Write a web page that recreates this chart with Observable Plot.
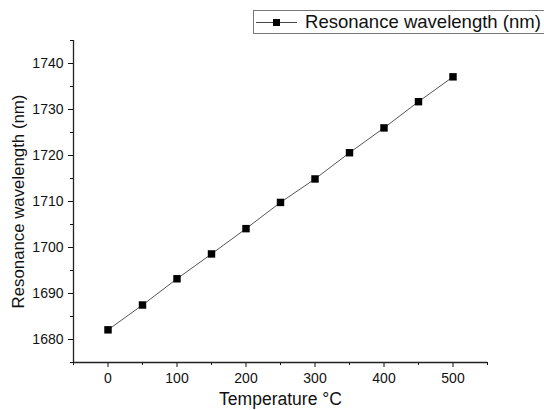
<!DOCTYPE html>
<html><head><meta charset="utf-8">
<script src="https://cdn.jsdelivr.net/npm/d3@7"></script>
<script src="https://cdn.jsdelivr.net/npm/@observablehq/plot@0.6"></script>
<style>
body{margin:0;background:#fff;font-family:Arial,"Liberation Sans",sans-serif}
#wrap{position:relative;width:544px;height:410px;overflow:hidden}
#legend{position:absolute;left:253px;top:10px;width:320px;height:22px;border:1px solid #777;background:#fff;color:#111;font-size:18px;line-height:22px;white-space:nowrap}
#legend svg{position:absolute;left:1px;top:0}
#legend span{position:absolute;left:51px;top:0}
</style></head><body><div id="wrap"></div>
<script>
const temperature = [0, 50, 100, 150, 200, 250, 300, 350, 400, 450, 500];
const wavelength = [1682.1, 1687.5, 1693.2, 1698.6, 1704.1, 1709.8, 1714.9, 1720.6, 1726.0, 1731.7, 1737.1];
const xMajorTicks = [0, 100, 200, 300, 400, 500];
const xMinorTicks = [-50, 50, 150, 250, 350, 450, 550];
const yMajorTicks = [1680, 1690, 1700, 1710, 1720, 1730, 1740];
const yMinorTicks = [1675, 1685, 1695, 1705, 1715, 1725, 1735, 1745];
const xDomain = [-50, 550];
const yDomain = [1675, 1745];
const seriesName = "Resonance wavelength (nm)";
const xLabel = "Temperature °C";
const yLabel = "Resonance wavelength (nm)";

const data = temperature.map((t, i) => ({t, w: wavelength[i]}));

const chart = Plot.plot({
  width: 544, height: 410,
  marginLeft: 73, marginRight: 57, marginTop: 40, marginBottom: 48,
  style: {fontFamily: "Arial, 'Liberation Sans', sans-serif", fontSize: "14px", color: "#111", background: "#fff"},
  x: {domain: xDomain},
  y: {domain: yDomain},
  marks: [
    Plot.axisX({ticks: xMinorTicks, tickSize: 3, tickFormat: () => "", label: null}),
    Plot.axisX({ticks: xMajorTicks, tickSize: 5, tickPadding: 6, label: xLabel, labelArrow: "none", labelAnchor: "center", labelOffset: 42, fontSize: 14}),
    Plot.axisY({ticks: yMinorTicks, tickSize: 3, tickFormat: () => "", label: null}),
    Plot.axisY({ticks: yMajorTicks, tickSize: 5, tickPadding: 5, tickFormat: d => String(d), label: yLabel, labelArrow: "none", labelAnchor: "center", labelOffset: 61, fontSize: 14}),
    Plot.ruleX([xDomain[0]], {stroke: "#222", strokeWidth: 1.3}),
    Plot.ruleY([yDomain[0]], {stroke: "#222", strokeWidth: 1.3}),
    Plot.line(data, {x: "t", y: "w", stroke: "#555", strokeWidth: 1}),
    Plot.dot(data, {x: "t", y: "w", symbol: "square", r: 4.2, fill: "#000", stroke: "none"})
  ]
});
const wrap = document.getElementById("wrap");
wrap.appendChild(chart);

function fitSvgText(el, target) {
  const w = el.getComputedTextLength();
  const fs = parseFloat(getComputedStyle(el).fontSize) || 14;
  if (w > 0) el.style.fontSize = (fs * target / w).toFixed(2) + "px";
}
chart.querySelectorAll("text").forEach(t => {
  const s = t.textContent;
  if (s.includes("Temperature")) { t.textContent = xLabel; fitSvgText(t, 123); }
  else if (s.includes("Resonance")) { t.textContent = yLabel; fitSvgText(t, 214); }
});

const legend = document.createElement("div");
legend.id = "legend";
legend.innerHTML = `<svg width="48" height="22"><line x1="1" y1="11.5" x2="42" y2="11.5" stroke="#444" stroke-width="1"/><rect x="18" y="8" width="7" height="7" fill="#000"/></svg><span>${seriesName}</span>`;
wrap.appendChild(legend);
const span = legend.querySelector("span");
const lw = span.getBoundingClientRect().width;
if (lw > 0) span.style.fontSize = (18 * 236 / lw).toFixed(2) + "px";
</script>
</body></html>
